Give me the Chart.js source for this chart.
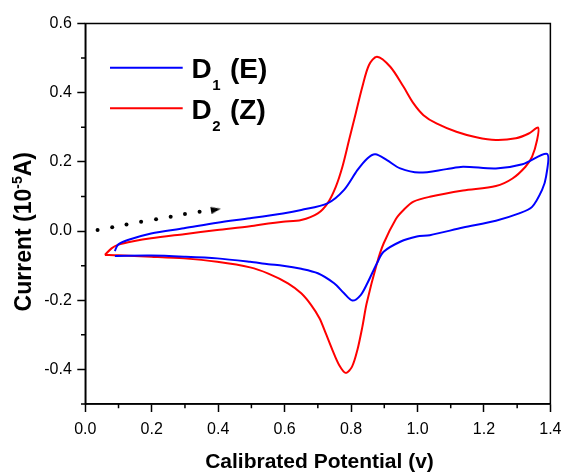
<!DOCTYPE html>
<html><head><meta charset="utf-8">
<script src="https://cdn.jsdelivr.net/npm/chart.js@4"></script>
<style>html,body{margin:0;padding:0;background:#fff;}canvas{display:block}</style>
</head><body>
<canvas id="c" width="569" height="472" style="width:569px;height:472px"></canvas>
<script>
// ---- data ----
const xTickValues = [0.0, 0.2, 0.4, 0.6, 0.8, 1.0, 1.2, 1.4];
const yTickValues = [-0.4, -0.2, 0.0, 0.2, 0.4, 0.6];
const xMinorTicks = [0.1, 0.3, 0.5, 0.7, 0.9, 1.1, 1.3];
const yMinorTicks = [-0.5, -0.3, -0.1, 0.1, 0.3, 0.5];

const seriesNames = ['D1 (E)', 'D2 (Z)'];
const seriesColors = ['#0000ff', '#ff0000'];

// D1 (E): forward sweep then reverse sweep
const d1Potential = [0.089, 0.098, 0.128, 0.198, 0.297, 0.397, 0.496, 0.595, 0.650, 0.729, 0.779, 0.819, 0.849, 0.873, 0.908, 0.948, 1.005, 1.087, 1.137, 1.236, 1.316, 1.390,
  1.387, 1.375, 1.345, 1.306, 1.236, 1.137, 1.037, 0.998, 0.948, 0.898, 0.878, 0.849, 0.829, 0.804, 0.779, 0.749, 0.700, 0.650, 0.595, 0.551, 0.496, 0.397, 0.297, 0.198, 0.089];
const d1Current = [-0.058, -0.040, -0.026, -0.007, 0.008, 0.024, 0.037, 0.051, 0.061, 0.080, 0.119, 0.176, 0.210, 0.222, 0.205, 0.181, 0.169, 0.179, 0.186, 0.181, 0.193, 0.223,
  0.157, 0.119, 0.070, 0.051, 0.030, 0.010, -0.012, -0.016, -0.031, -0.060, -0.093, -0.151, -0.185, -0.201, -0.180, -0.151, -0.122, -0.109, -0.100, -0.096, -0.089, -0.079, -0.074, -0.071, -0.072];

// D2 (Z)
const d2Potential = [0.059, 0.079, 0.098, 0.148, 0.198, 0.297, 0.397, 0.496, 0.551, 0.595, 0.650, 0.700, 0.729, 0.754, 0.774, 0.794, 0.814, 0.834, 0.854, 0.878, 0.918, 0.958, 0.988, 1.018, 1.057, 1.117, 1.177, 1.236, 1.296, 1.335, 1.363,
  1.360, 1.345, 1.325, 1.286, 1.236, 1.137, 1.037, 0.988, 0.958, 0.935, 0.898, 0.878, 0.847, 0.834, 0.819, 0.803, 0.784, 0.764, 0.744, 0.724, 0.705, 0.680, 0.650, 0.610, 0.551, 0.496, 0.397, 0.297, 0.198, 0.098, 0.059];
const d2Current = [-0.069, -0.050, -0.040, -0.029, -0.021, -0.009, 0.003, 0.014, 0.022, 0.027, 0.032, 0.051, 0.080, 0.128, 0.186, 0.263, 0.340, 0.417, 0.480, 0.504, 0.475, 0.417, 0.369, 0.335, 0.311, 0.287, 0.271, 0.263, 0.268, 0.282, 0.299,
  0.263, 0.215, 0.186, 0.152, 0.130, 0.117, 0.099, 0.085, 0.061, 0.035, -0.036, -0.093, -0.209, -0.277, -0.344, -0.392, -0.410, -0.387, -0.344, -0.296, -0.252, -0.214, -0.180, -0.151, -0.123, -0.105, -0.089, -0.079, -0.074, -0.070, -0.069];

// dotted sweep-direction arrow
const arrowDotPotential = [0.037, 0.081, 0.124, 0.168, 0.213, 0.257, 0.300, 0.344];
const arrowDotCurrent = [0.003, 0.011, 0.019, 0.027, 0.034, 0.041, 0.049, 0.056];
const arrowHeadPotential = [0.393];
const arrowHeadCurrent = [0.062];

const xTitle = 'Calibrated Potential (v)';
const yTitleParts = ['Current (10', '-5', 'A)'];

// ---- build ----
const zip = (xs, ys) => xs.map((x, i) => ({x: x, y: ys[i]}));
const FONT = '"Liberation Sans", Arial, Helvetica, sans-serif';

const head = document.createElement('canvas');
head.width = 10; head.height = 7;
(function(){ const g = head.getContext('2d'); g.fillStyle = '#000'; g.beginPath(); g.moveTo(0,0); g.lineTo(10,3.5); g.lineTo(0,7); g.closePath(); g.fill(); })();

const extras = {
  id: 'extras',
  afterDraw(chart) {
    const ctx = chart.ctx, a = chart.chartArea;
    const xs = chart.scales.x, ys = chart.scales.y;
    ctx.save();
    ctx.strokeStyle = '#000'; ctx.lineWidth = 1.5;
    ctx.strokeRect(a.left, a.top, a.right - a.left, a.bottom - a.top);
    ctx.beginPath();
    xMinorTicks.forEach(v => { const p = xs.getPixelForValue(v); ctx.moveTo(p, a.bottom); ctx.lineTo(p, a.bottom + 4.3); });
    yMinorTicks.forEach(v => { const p = ys.getPixelForValue(v); ctx.moveTo(a.left, p); ctx.lineTo(a.left - 4.3, p); });
    ctx.stroke();

    // legend
    const legendRows = [
      {main: 'D', sub: '1', rest: '(E)', y: 67.7},
      {main: 'D', sub: '2', rest: '(Z)', y: 108.3}
    ];
    legendRows.forEach((r, i) => {
      ctx.strokeStyle = seriesColors[i]; ctx.lineWidth = 2;
      ctx.beginPath(); ctx.moveTo(110, r.y); ctx.lineTo(182.7, r.y); ctx.stroke();
      ctx.fillStyle = '#000'; ctx.textBaseline = 'alphabetic'; ctx.textAlign = 'left';
      let x = 191.5;
      const base = r.y + 10.6;
      ctx.font = 'bold 28px ' + FONT;
      ctx.fillText(r.main, x, base);
      x += ctx.measureText(r.main).width + 0.5;
      ctx.font = 'bold 15px ' + FONT;
      ctx.fillText(r.sub, x, base + 12);
      x = 230;
      ctx.font = 'bold 28px ' + FONT;
      ctx.fillText(r.rest, x, base);
    });

    // x title
    ctx.fillStyle = '#000';
    ctx.font = 'bold 21px ' + FONT;
    ctx.textAlign = 'center';
    ctx.fillText(xTitle, 319.5, 468);

    // y title (rotated, with superscript)
    ctx.translate(30.5, 231.7);
    ctx.rotate(-Math.PI / 2);
    ctx.textAlign = 'left';
    ctx.font = 'bold 23px ' + FONT;
    const w1 = ctx.measureText(yTitleParts[0]).width;
    const w3 = ctx.measureText(yTitleParts[2]).width;
    ctx.font = 'bold 14px ' + FONT;
    const w2 = ctx.measureText(yTitleParts[1]).width;
    let sx = -(w1 + w2 + w3) / 2;
    ctx.font = 'bold 23px ' + FONT;
    ctx.fillText(yTitleParts[0], sx, 0); sx += w1;
    ctx.font = 'bold 14px ' + FONT;
    ctx.fillText(yTitleParts[1], sx, -9); sx += w2;
    ctx.font = 'bold 23px ' + FONT;
    ctx.fillText(yTitleParts[2], sx, 0);
    ctx.restore();
  }
};

const axisCommon = {
  type: 'linear',
  grid: {display: true, drawOnChartArea: false, drawTicks: true, tickLength: 8, tickColor: '#000', tickWidth: 1.5},
  border: {display: true, color: '#000', width: 1.5},
  title: {display: false}
};

new Chart(document.getElementById('c'), {
  type: 'scatter',
  data: {
    datasets: [
      {label: seriesNames[0], data: zip(d1Potential, d1Current), showLine: true, borderColor: seriesColors[0], borderWidth: 2, pointRadius: 0, tension: 0.3, fill: false},
      {label: seriesNames[1], data: zip(d2Potential, d2Current), showLine: true, borderColor: seriesColors[1], borderWidth: 2, pointRadius: 0, tension: 0.3, fill: false},
      {label: 'dots', data: zip(arrowDotPotential, arrowDotCurrent), showLine: false, pointRadius: 2, pointBackgroundColor: '#000', pointBorderWidth: 0, pointStyle: 'circle'},
      {label: 'head', data: zip(arrowHeadPotential, arrowHeadCurrent), showLine: false, pointStyle: head, rotation: -10, pointRadius: 5}
    ]
  },
  options: {
    responsive: false, animation: false, devicePixelRatio: 1,
    layout: {padding: {left: 0, right: 13.7, top: 23.5, bottom: 0}},
    plugins: {legend: {display: false}, tooltip: {enabled: false}},
    scales: {
      x: Object.assign({}, axisCommon, {
        min: 0, max: 1.4,
        afterBuildTicks: s => { s.ticks = xTickValues.map(v => ({value: v})); },
        afterFit: s => { s.height = 68; },
        ticks: {color: '#000', font: {family: FONT, size: 16}, padding: 7.5, maxRotation: 0, callback: v => Number(v).toFixed(1)}
      }),
      y: Object.assign({}, axisCommon, {
        min: -0.5, max: 0.6,
        afterBuildTicks: s => { s.ticks = yTickValues.map(v => ({value: v})); },
        afterFit: s => { s.width = 85.3; },
        ticks: {color: '#000', font: {family: FONT, size: 16}, padding: 5.5, callback: v => Number(v).toFixed(1)}
      })
    }
  },
  plugins: [extras]
});
</script>
</body></html>
